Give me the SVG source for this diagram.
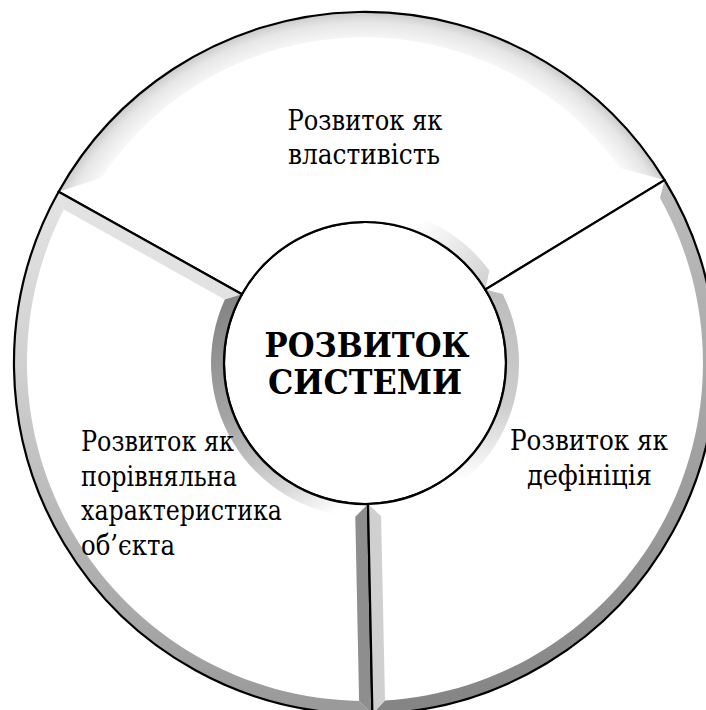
<svg xmlns="http://www.w3.org/2000/svg" width="706" height="710" viewBox="0 0 706 710" font-family="'DejaVu Serif', serif">
  <style>
    .seg { fill: #ffffff; }
    .edge { fill: none; stroke: #000000; stroke-width: 2.2; stroke-linejoin: miter; }
    .label { font-size: 27.5px; fill: #000000; }
    .title { font-size: 34px; font-weight: bold; fill: #000000; text-anchor: middle; }
  </style>
  <defs>
    <!-- soft bevel along the outer rim of the upper sector -->
    <radialGradient id="rimTop" gradientUnits="userSpaceOnUse" cx="365" cy="363" r="351">
      <stop offset="0.9" stop-color="#ffffff"/>
      <stop offset="0.97" stop-color="#e6e6e6"/>
      <stop offset="1" stop-color="#cbcbcb"/>
    </radialGradient>
    <linearGradient id="hubTop" gradientUnits="userSpaceOnUse" x1="420" y1="222" x2="488" y2="282">
      <stop offset="0" stop-color="#ffffff"/>
      <stop offset="1" stop-color="#d2d2d2"/>
    </linearGradient>
    <!-- left sector bevels -->
    <linearGradient id="rimLeft" gradientUnits="userSpaceOnUse" x1="0" y1="190" x2="0" y2="705">
      <stop offset="0" stop-color="#e4e4e4"/>
      <stop offset="0.35" stop-color="#d0d0d0"/>
      <stop offset="1" stop-color="#9a9a9a"/>
    </linearGradient>
    <linearGradient id="hubLeft" gradientUnits="userSpaceOnUse" x1="232" y1="298" x2="345" y2="508">
      <stop offset="0" stop-color="#858585"/>
      <stop offset="0.45" stop-color="#a6a6a6"/>
      <stop offset="0.8" stop-color="#d6d6d6"/>
      <stop offset="1" stop-color="#ffffff"/>
    </linearGradient>
    <!-- right sector bevels -->
    <linearGradient id="rimRight" gradientUnits="userSpaceOnUse" x1="0" y1="180" x2="0" y2="705">
      <stop offset="0" stop-color="#bdbdbd"/>
      <stop offset="0.5" stop-color="#a2a2a2"/>
      <stop offset="1" stop-color="#858585"/>
    </linearGradient>
    <linearGradient id="hubRight" gradientUnits="userSpaceOnUse" x1="0" y1="290" x2="0" y2="480">
      <stop offset="0" stop-color="#bcbcbc"/>
      <stop offset="0.6" stop-color="#cdcdcd"/>
      <stop offset="1" stop-color="#ffffff"/>
    </linearGradient>
  </defs>

  <rect width="706" height="710" fill="#ffffff"/>

  <!-- central hub -->
  <g id="core">
    <circle cx="365" cy="363" r="141" fill="#ffffff" stroke="#000000" stroke-width="2.2"/>
    <text class="title" x="367" y="357" textLength="205" lengthAdjust="spacingAndGlyphs">РОЗВИТОК</text>
    <text class="title" x="365" y="394" textLength="194" lengthAdjust="spacingAndGlyphs">СИСТЕМИ</text>
  </g>

  <!-- upper sector -->
  <g id="seg-top">
    <path class="seg" d="M58.6 191.7 A351 351 0 0 1 664.6 180.1 L485.3 289.5 A141 141 0 0 0 241.9 294.2 Z"/>
    <path fill="url(#rimTop)" d="M58.6 191.7 A351 351 0 0 1 664.6 180.1 L620 168 A316 316 0 0 0 101 178 Z"/>
    <path fill="url(#hubTop)" d="M413.2 230.5 A141 141 0 0 1 485.3 289.5 L489.4 270.6 A155 155 0 0 0 418 217.3 Z"/>
    <path class="edge" d="M58.6 191.7 A351 351 0 0 1 664.6 180.1 L485.3 289.5 A141 141 0 0 0 241.9 294.2 Z"/>
    <text class="label" text-anchor="middle" x="365" y="130" textLength="155" lengthAdjust="spacingAndGlyphs">Розвиток як</text>
    <text class="label" text-anchor="middle" x="364" y="164" textLength="152" lengthAdjust="spacingAndGlyphs">властивість</text>
  </g>

  <!-- left sector -->
  <g id="seg-left">
    <path class="seg" d="M372.4 713.9 A351 351 0 0 1 58.6 191.7 L241.9 294.2 A141 141 0 0 0 368 504 Z"/>
    <path fill="url(#rimLeft)" d="M372.4 713.9 A351 351 0 0 1 58.6 191.7 L63.8 209.5 A338 338 0 0 0 359.1 700.9 Z"/>
    <polygon fill="#e2e2e2" points="241.9,294.2 58.6,191.7 63.8,209.5 224.8,299.4"/>
    <path fill="url(#hubLeft)" d="M368 504 A141 141 0 0 1 241.9 294.2 L224.8 299.4 A154 154 0 0 0 355.3 516.7 Z"/>
    <polygon fill="#8e8e8e" points="368,504 372.4,713.9 359.1,700.9 355.3,516.7"/>
    <path class="edge" d="M372.4 713.9 A351 351 0 0 1 58.6 191.7 L241.9 294.2 A141 141 0 0 0 368 504 Z"/>
    <text class="label" x="81" y="451" textLength="153" lengthAdjust="spacingAndGlyphs">Розвиток як</text>
    <text class="label" x="81" y="485.5" textLength="156" lengthAdjust="spacingAndGlyphs">порівняльна</text>
    <text class="label" x="81" y="520" textLength="201" lengthAdjust="spacingAndGlyphs">характеристика</text>
    <text class="label" x="81" y="554.5" textLength="94" lengthAdjust="spacingAndGlyphs">об’єкта</text>
  </g>

  <!-- right sector -->
  <g id="seg-right">
    <path class="seg" d="M664.6 180.1 A351 351 0 0 1 372.4 713.9 L368 504 A141 141 0 0 0 485.3 289.5 Z"/>
    <path fill="url(#rimRight)" d="M664.6 180.1 A351 351 0 0 1 372.4 713.9 L385 700.4 A338 338 0 0 0 660 198.1 Z"/>
    <path fill="url(#hubRight)" d="M485.3 289.5 A141 141 0 0 1 368 504 L381.1 516.2 A154 154 0 0 0 502.7 294 Z"/>
    <polygon fill="#d0d0d0" points="368,504 372.4,713.9 385,700.4 381.1,516.2"/>
    <path class="edge" d="M664.6 180.1 A351 351 0 0 1 372.4 713.9 L368 504 A141 141 0 0 0 485.3 289.5 Z"/>
    <text class="label" text-anchor="middle" x="589" y="450" textLength="158" lengthAdjust="spacingAndGlyphs">Розвиток як</text>
    <text class="label" text-anchor="middle" x="589.5" y="484.5" textLength="125" lengthAdjust="spacingAndGlyphs">дефініція</text>
  </g>
</svg>
